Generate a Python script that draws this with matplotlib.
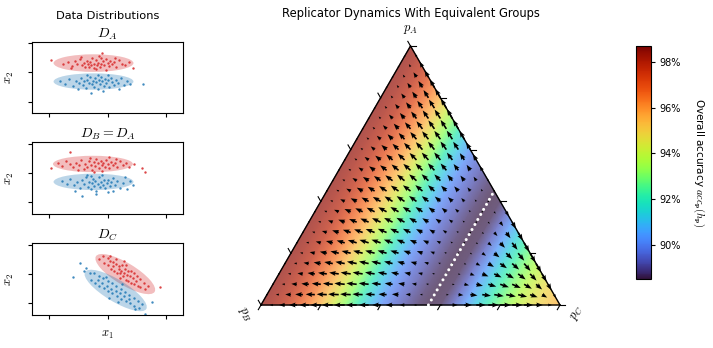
import numpy as np
import matplotlib
matplotlib.use('Agg')
import matplotlib.pyplot as plt
import matplotlib.tri as mtri
from matplotlib.patches import Ellipse
from matplotlib.colors import Normalize, ListedColormap
from matplotlib.cm import ScalarMappable

plt.rcParams['mathtext.fontset'] = 'cm'
plt.rcParams['font.family'] = ['DejaVu Sans']

# ---------------- data distributions (left column) ----------------
panel_titles = [r'$D_A$', r'$D_B = D_A$', r'$D_C$']

da_red = [(-1.94, 0.41), (-1.52, 0.28), (-1.36, 0.35), (-1.21, 0.22), (-1.12, 0.38), (-1.03, 0.30),
          (-0.96, 0.45), (-0.87, 0.25), (-0.81, 0.33), (-0.76, 0.18), (-0.71, 0.40), (-0.66, 0.28),
          (-0.61, 0.36), (-0.56, 0.24), (-0.52, 0.50), (-0.48, 0.30), (-0.45, 0.15), (-0.41, 0.42),
          (-0.36, 0.26), (-0.31, 0.34), (-0.28, 0.55), (-0.25, 0.20), (-0.21, 0.30), (-0.19, 0.66),
          (-0.15, 0.38), (-0.11, 0.25), (-0.06, 0.46), (0.00, 0.32), (0.04, 0.22), (0.09, 0.40),
          (0.14, 0.28), (0.21, 0.35), (0.29, 0.18), (0.38, 0.42), (0.49, 0.30), (0.61, 0.24),
          (0.74, 0.36), (0.86, 0.14), (-0.63, 0.20), (-0.39, 0.12), (-0.23, 0.48), (-0.04, 0.10),
          (0.26, 0.50), (-0.91, 0.52), (-1.26, 0.16)]
da_blue = [(-1.62, -0.30), (-1.45, -0.38), (-1.31, -0.22), (-1.18, -0.45), (-1.08, -0.28), (-0.99, -0.36),
           (-0.92, -0.18), (-0.85, -0.42), (-0.79, -0.30), (-0.74, -0.52), (-0.69, -0.24), (-0.64, -0.35),
           (-0.59, -0.16), (-0.57, -0.71), (-0.53, -0.40), (-0.49, -0.28), (-0.46, -0.48), (-0.42, -0.20),
           (-0.38, -0.33), (-0.34, -0.58), (-0.30, -0.26), (-0.26, -0.40), (-0.22, -0.14), (-0.18, -0.30),
           (-0.13, -0.45), (-0.09, -0.22), (-0.04, -0.35), (0.01, -0.27), (0.06, -0.50), (0.11, -0.18),
           (0.16, -0.32), (0.22, -0.42), (0.28, -0.25), (0.36, -0.36), (0.45, -0.20), (0.55, -0.44),
           (0.66, -0.30), (0.78, -0.38), (1.23, -0.39), (-0.70, -0.10), (-0.32, -0.08), (0.02, -0.10),
           (-1.00, -0.55), (-0.15, -0.62), (0.40, -0.55)]
db_red = [(-1.94, 0.18), (-1.70, 0.35), (-1.55, 0.25), (-1.42, 0.40), (-1.30, 0.30), (-1.28, 0.71),
          (-1.18, 0.20), (-1.08, 0.36), (-0.98, 0.27), (-0.90, 0.44), (-0.82, 0.15), (-0.76, 0.32),
          (-0.70, 0.22), (-0.64, 0.41), (-0.58, 0.29), (-0.52, 0.12), (-0.47, 0.37), (-0.43, 0.25),
          (-0.38, 0.47), (-0.33, 0.33), (-0.29, 0.18), (-0.24, 0.40), (-0.19, 0.27), (-0.14, 0.36),
          (-0.09, 0.20), (-0.04, 0.44), (0.01, 0.30), (0.06, 0.16), (0.12, 0.38), (0.18, 0.26),
          (0.25, 0.33), (0.33, 0.21), (0.42, 0.40), (0.52, 0.28), (0.63, 0.35), (0.75, 0.22),
          (0.90, 0.30), (1.18, 0.16), (1.29, 0.04), (-0.60, 0.50), (-0.20, 0.08), (0.30, 0.48),
          (-1.00, 0.10), (0.05, 0.55), (-0.45, 0.05)]
db_blue = [(-1.55, -0.28), (-1.40, -0.36), (-1.27, -0.20), (-1.16, -0.42), (-1.05, -0.30), (-0.96, -0.50),
           (-0.88, -0.78), (-0.88, -0.24), (-0.80, -0.38), (-0.74, -0.15), (-0.68, -0.46), (-0.63, -0.29),
           (-0.58, -0.56), (-0.54, -0.34), (-0.50, -0.20), (-0.46, -0.43), (-0.42, -0.27), (-0.38, -0.60),
           (-0.34, -0.36), (-0.30, -0.12), (-0.26, -0.48), (-0.22, -0.31), (-0.17, -0.40), (-0.12, -0.22),
           (-0.08, -0.52), (-0.03, -0.34), (0.02, -0.25), (0.07, -0.45), (0.13, -0.30), (0.19, -0.18),
           (0.26, -0.40), (0.34, -0.28), (0.43, -0.50), (0.53, -0.35), (0.66, -0.55), (0.78, -0.27),
           (0.88, -0.42), (-0.70, -0.05), (-0.40, -0.70), (0.00, -0.65), (-1.10, -0.60), (0.20, -0.62),
           (-0.20, -0.08), (0.60, -0.15), (-0.55, -0.10)]
dc_red = [(-0.30, 0.50), (-0.15, 0.62), (-0.12, 0.38), (0.00, 0.55), (0.02, 0.30), (0.10, 0.45),
          (0.12, 0.18), (0.08, 0.62), (0.20, 0.40), (0.22, 0.10), (0.18, 0.28), (0.30, 0.35),
          (0.32, 0.02), (0.28, 0.52), (0.40, 0.28), (0.42, 0.05), (0.38, 0.18), (0.44, -0.12),
          (0.50, 0.30), (0.52, -0.05), (0.48, 0.12), (0.55, 0.45), (0.60, 0.18), (0.62, -0.20),
          (0.58, 0.02), (0.65, 0.30), (0.70, 0.10), (0.72, -0.25), (0.68, -0.02), (0.80, 0.12),
          (0.82, -0.30), (0.78, -0.08), (0.90, 0.02), (0.92, -0.35), (0.88, -0.15), (1.00, -0.05),
          (1.03, -0.40), (0.98, -0.25), (1.10, -0.18), (1.12, -0.45), (1.25, -0.30), (1.28, -0.52),
          (1.40, -0.42), (1.80, -0.43)]
dc_blue = [(-0.93, 0.37), (-1.18, -0.09), (1.29, -1.35), (1.52, -0.97), (-0.60, 0.05), (-0.55, -0.20),
           (-0.45, 0.02), (-0.42, -0.30), (-0.30, -0.08), (-0.28, -0.40), (-0.32, -0.20), (-0.15, -0.15),
           (-0.12, -0.48), (-0.18, -0.30), (0.00, -0.25), (0.02, -0.58), (-0.03, -0.40), (0.15, -0.32),
           (0.17, -0.66), (0.13, -0.50), (0.30, -0.42), (0.32, -0.75), (0.28, -0.58), (0.45, -0.50),
           (0.47, -0.85), (0.43, -0.66), (0.60, -0.60), (0.62, -0.92), (0.58, -0.76), (0.75, -0.70),
           (0.77, -1.00), (0.73, -0.84), (0.90, -0.80), (0.92, -1.08), (1.05, -0.92), (1.08, -1.15),
           (1.20, -1.02), (-0.75, 0.20), (-0.80, 0.10), (0.05, -0.80), (0.35, -0.95), (-0.05, -0.10),
           (0.50, -0.35), (0.95, -1.20)]

red_clouds = [da_red, db_red, dc_red]
blue_clouds = [da_blue, db_blue, dc_blue]

# ellipse (center, width, height, angle) for each group per panel
red_ellipses = [((-0.48, 0.32), 2.74, 0.60, 0), ((-0.50, 0.31), 2.74, 0.56, 0), ((0.61, 0.0), 2.35, 0.75, -31)]
blue_ellipses = [((-0.48, -0.31), 2.74, 0.56, 0), ((-0.48, -0.30), 2.74, 0.56, 0), ((0.28, -0.56), 2.45, 0.75, -31)]

# ---------------- ternary field (pC levels k/25) ----------------
pc_levels = [k / 25 for k in range(26)]
acc_overall = [98.5, 98.2, 97.8, 97.1, 96.3, 95.4, 94.3, 93.2, 92.1, 91.1, 90.2, 89.6, 89.1,
               88.7, 88.5, 88.6, 89.3, 90.3, 91.3, 92.2, 93.0, 93.7, 94.3, 94.8, 95.2, 95.6]
gap_c_vs_ab = [-12.0, -11.5, -11.0, -10.4, -9.8, -9.1, -8.4, -7.6, -6.8, -5.9, -4.9, -3.9, -2.8,
               -1.5, 0.0, 1.5, 3.2, 4.9, 6.5, 8.0, 9.4, 10.7, 11.9, 13.0, 14.0, 15.0]
eq_pc = 0.56
cbar_ticks = [90, 92, 94, 96, 98]

fig = plt.figure(figsize=(7.13, 3.48), dpi=100)

# left column
tops = [41.7, 142.3, 243.3]
for i in range(3):
    ax = fig.add_axes([31.7 / 713, 1 - (tops[i] + 71.5) / 348, 151.6 / 713, 71.5 / 348])
    for ell, col in [(red_ellipses[i], 'tab:red'), (blue_ellipses[i], 'tab:blue')]:
        e = Ellipse(ell[0], ell[1], ell[2], angle=ell[3], facecolor=col, alpha=0.3, edgecolor='none')
        ax.add_patch(e)
    r = np.array(red_clouds[i])
    b = np.array(blue_clouds[i])
    ax.scatter(r[:, 0], r[:, 1], s=3, color='tab:red', alpha=0.85, linewidths=0)
    ax.scatter(b[:, 0], b[:, 1], s=3, color='tab:blue', alpha=0.85, linewidths=0)
    ax.set_xlim(-2.6, 2.6)
    ax.set_ylim(-1.39, 1.05)
    ax.set_xticks([-2, 0, 2])
    ax.set_yticks([-1, 0, 1])
    ax.set_xticklabels([])
    ax.set_yticklabels([])
    ax.tick_params(length=3, width=0.8)
    for s in ax.spines.values():
        s.set_linewidth(0.8)
    ax.set_title(panel_titles[i], fontsize=10, pad=2.5)
    ax.set_ylabel(r'$x_2$', fontsize=9, labelpad=5)
    if i == 2:
        ax.set_xlabel(r'$x_1$', fontsize=9, labelpad=3)

fig.text(108 / 713, 1 - 16 / 348, 'Data Distributions', ha='center', va='center', fontsize=8.2)
fig.text(411 / 713, 1 - 14 / 348, 'Replicator Dynamics With Equivalent Groups', ha='center', va='center', fontsize=8.3)

# ternary plot
h = np.sqrt(3) / 2
tax = fig.add_axes([231 / 713, 1 - 334.9 / 348, 359 / 713, 314 / 348])
tax.set_xlim(-0.1003, 1.1003)
tax.set_ylim(-0.1, 0.95)
tax.axis('off')

n = 25
xs, ys, zs, us, vs = [], [], [], [], []
for a in range(n + 1):
    for c in range(n + 1 - a):
        pA = a / n
        pC = pc_levels[c]
        x = pC + pA / 2
        y = pA * h
        g = gap_c_vs_ab[c]
        xs.append(x)
        ys.append(y)
        zs.append(acc_overall[c])
        # replicator: velocity points along the ray towards the p_C corner
        us.append(pC * g * (1 - x))
        vs.append(pC * g * (-y))

# turbo faded onto white (alpha 0.7 precomposited, avoids seams between triangles)
base = plt.get_cmap('turbo')(np.linspace(0, 1, 256))
base[:, :3] = base[:, :3] * 0.7 + 0.3
faded = ListedColormap(base)

tri = mtri.Triangulation(xs, ys)
vmin, vmax = 88.5, 98.7
tax.tripcolor(tri, zs, shading='gouraud', cmap=faded, vmin=vmin, vmax=vmax)
tax.quiver(xs, ys, us, vs, angles='xy', scale_units='xy', scale=42, width=0.0046,
           headwidth=3, headlength=4, headaxislength=3.5, color='k', zorder=3)

tax.plot([0, 1, 0.5, 0], [0, 0, h, 0], color='k', lw=1, zorder=4)
L = 0.018
for t in [0, 0.2, 0.4, 0.6, 0.8, 1.0]:
    tax.plot([t, t - 0.5 * L], [0, -h * L], color='k', lw=0.8, zorder=4)
    rx, ry = 1 - t / 2, t * h
    tax.plot([rx, rx + L], [ry, ry], color='k', lw=0.8, zorder=4)
    lx, ly = t / 2, t * h
    tax.plot([lx, lx - 0.5 * L], [ly, ly + h * L], color='k', lw=0.8, zorder=4)

tax.plot([eq_pc, eq_pc + (1 - eq_pc) / 2], [0, (1 - eq_pc) * h], color='white', lw=2.2,
         linestyle=(0, (0.001, 1.9)), dash_capstyle='round', zorder=5)

tax.text(0.5, 0.92, r'$p_A$', ha='center', va='center', fontsize=9)
tax.text(-0.054, -0.033, r'$p_B$', ha='center', va='center', fontsize=9, rotation=-60)
tax.text(1.057, -0.027, r'$p_C$', ha='center', va='center', fontsize=9, rotation=60)

# colorbar
cax = fig.add_axes([635.5 / 713, 1 - 279 / 348, 15 / 713, 233 / 348])
sm = ScalarMappable(norm=Normalize(vmin, vmax), cmap='turbo')
cb = fig.colorbar(sm, cax=cax)
cb.set_ticks(cbar_ticks)
cb.set_ticklabels(['%d%%' % v for v in cbar_ticks])
cb.ax.tick_params(labelsize=7, length=3, width=0.8)
cb.outline.set_linewidth(0.8)
cb.set_label(r'Overall accuracy $acc_{\mathbf{p}}(h_{\mathbf{p}})$', rotation=270, fontsize=7.5, labelpad=18)

fig.savefig('out.png', dpi=100)
